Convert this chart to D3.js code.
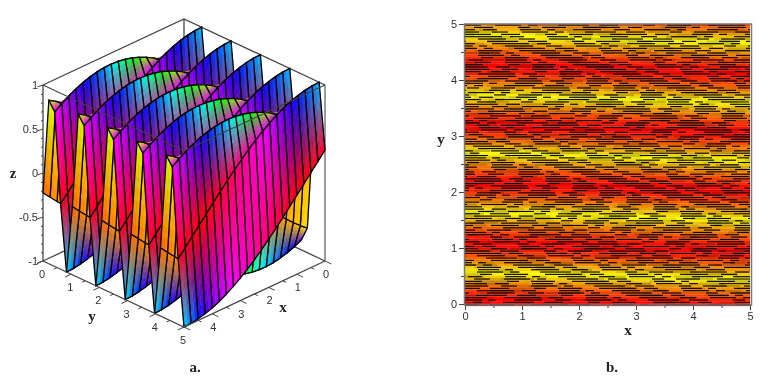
<!DOCTYPE html>
<html>
<head>
<meta charset="utf-8">
<script src="https://cdnjs.cloudflare.com/ajax/libs/d3/7.8.5/d3.min.js"></script>
<style>
  html, body { margin: 0; padding: 0; background: #fff; }
  svg { display: block; filter: blur(0.3px); }
  .tk { font-family: "Liberation Sans", sans-serif; font-size: 11px; fill: #333; }
  .lab { font-family: "Liberation Serif", serif; font-size: 15px; font-weight: bold; fill: #222; }
</style>
</head>
<body>
<svg id="graph" width="767" height="385"></svg>
<script>
const w = 767;
const h = 385;

// panel a: mesh lines, x runs from the front edge to the right corner
const xGrid = [5,4.75,4.5,4.25,4,3.75,3.5,3.25,3,2.75,2.5,2.25,2,1.75,1.5,1.25,1,0.75,0.5,0.25,0];
const yGrid = [0,0.208,0.417,0.625,0.833,1.042,1.25,1.458,1.667,1.875,2.083,2.292,2.5,2.708,2.917,3.125,3.333,3.542,3.75,3.958,4.167,4.375,4.583,4.792,5];
const zLine0 = [-0.225,-0.313,-0.399,-0.481,-0.559,-0.633,-0.701,-0.763,-0.819,-0.868,-0.91,-0.944,-0.97,-0.988,-0.998,-1,-0.993,-0.977,-0.954,-0.922,-0.883];
const zLine1 = [0.857,0.807,0.749,0.685,0.616,0.541,0.462,0.379,0.292,0.204,0.113,0.022,-0.07,-0.161,-0.25,-0.338,-0.423,-0.504,-0.581,-0.653,-0.719];
const zLine2 = [0.755,0.812,0.862,0.905,0.94,0.967,0.986,0.997,1,0.994,0.98,0.958,0.927,0.889,0.843,0.791,0.731,0.666,0.595,0.519,0.438];
const zLine3 = [-0.259,-0.169,-0.078,0.013,0.105,0.195,0.284,0.371,0.454,0.534,0.609,0.679,0.743,0.801,0.853,0.897,0.934,0.962,0.983,0.996,1];
const zLine4 = [-1,-0.996,-0.983,-0.962,-0.934,-0.897,-0.853,-0.801,-0.743,-0.679,-0.609,-0.534,-0.454,-0.371,-0.284,-0.195,-0.105,-0.013,0.078,0.169,0.259];
const zLines = [zLine0,zLine1,zLine2,zLine3,zLine4];
// hue along each curve, read at these x
const hueAt = [5,4.167,3.333,2.5,1.667,0.833,0];
const hueLine0 = [24,40,55,85,165,215,265];
const hueLine1 = [72,50,38,28,28,38,52];
const hueLine2 = [300,255,210,145,72,48,38];
const hueLine3 = [350,358,345,318,285,238,195];
const hueLine4 = [190,262,298,322,345,358,350];
const hueLines = [hueLine0,hueLine1,hueLine2,hueLine3,hueLine4];
const axisTicks = [0,1,2,3,4,5];
const halfTicks = [0.5,1.5,2.5,3.5,4.5];
const zTicks = [-1,-0.5,0,0.5,1];
const zTickLabels = ['-1','-0.5','0','0.5','1'];
const zMinor = [-0.9,-0.8,-0.7,-0.6,-0.4,-0.3,-0.2,-0.1,0.1,0.2,0.3,0.4,0.6,0.7,0.8,0.9];

// panel b: centre of each colour band at x=0 and its level (0 red, 1 yellow)
const bandY = [-0.46,0.07,0.57,1.09,1.64,2.16,2.7,3.2,3.73,4.27,4.8,5.3];
const bandLevel = [1,0,1,0,1,0,1,0,1,0,1,0];
const bandLevelStops = [0.1,0.4,0.7,0.98];
const bandColors = ['#fb0800','#fd4a00','#f0a000','#fcfc00'];
const bandDrop = 0.14; // bands sink this much from x=0 to x=5
const rowShade = [1,0.92,1,0.8,0.96,1,0.86,1,0.9,0.78,1,0.95,0.84];
const dashLengths = [16,26,9,31,19,12,24,37,14,21,8,28];
const gapLengths = [14,7,21,10,25,12,17,8,23,6,18,13];
const cellWidths = [22,31,17,26,35,20,28,15,24,33];

const svg = d3.select('#graph');

// panel a projection, one linear scale per screen contribution
const xToLeft = d3.scaleLinear().domain([0,5]).range([0,-141]);
const yToRight = d3.scaleLinear().domain([0,5]).range([184,325]);
const xToDown = d3.scaleLinear().domain([0,5]).range([0,66]);
const yToDown = d3.scaleLinear().domain([0,5]).range([0,66]);
const zToUp = d3.scaleLinear().domain([-1,1]).range([195,19]);

function px(p){ return xToLeft(p[0]) + yToRight(p[1]); }
function py(p){ return xToDown(p[0]) + yToDown(p[1]) + zToUp(p[2]); }
const line3 = d3.line().x(px).y(py);

const hueScales = hueLines.map(function(hues){
  return d3.scaleLinear().domain(hueAt).range(hues);
});
function vertexColor(k,j){
  return d3.hsl(hueScales[j%5](xGrid[k]),1,0.5).rgb();
}
function mix(a,b,t){ return a + (b-a)*t; }

function box(g,pts,width,col){
  g.append('path').attr('d',line3(pts)).attr('fill','none')
    .attr('stroke',col||'#444').attr('stroke-width',width||1.3);
}

function generateSurface(){
  const g = svg.append('g').attr('id','surface');
  const bands = 8;
  const cols = 2;
  for (let j=0;j<yGrid.length-1;j++){
    for (let k=xGrid.length-2;k>=0;k--){
      // k is the front side, k+1 further back; j the far line, j+1 the near one
      const a = [xGrid[k+1],yGrid[j],zLines[j%5][k+1]];
      const b = [xGrid[k],yGrid[j],zLines[j%5][k]];
      const c = [xGrid[k],yGrid[j+1],zLines[(j+1)%5][k]];
      const d = [xGrid[k+1],yGrid[j+1],zLines[(j+1)%5][k+1]];
      const farMix = d3.interpolateRgb(vertexColor(k+1,j),vertexColor(k,j));
      const nearMix = d3.interpolateRgb(vertexColor(k+1,j+1),vertexColor(k,j+1));
      // point on the quad, s along x and t along y
      const at = function(s,t){
        return [mix(a[0],b[0],s),mix(a[1],d[1],t),mix(mix(a[2],b[2],s),mix(d[2],c[2],s),t)];
      };
      for (let m=0;m<cols;m++){
        const s0 = m/cols, s1 = (m+1)/cols;
        const colMix = d3.interpolateRgb(farMix((s0+s1)/2),nearMix((s0+s1)/2));
        for (let n=0;n<bands;n++){
          const t0 = n/bands, t1 = (n+1)/bands;
          const col = colMix((t0+t1)/2);
          g.append('path').attr('d',line3([at(s0,t0),at(s1,t0),at(s1,t1),at(s0,t1),at(s0,t0)]))
            .attr('fill',col).attr('stroke',col).attr('stroke-width',0.5);
        }
      }
      g.append('path').attr('d',line3([a,b,c,d,a])).attr('fill','none')
        .attr('stroke','#000').attr('stroke-width',1.3);
    }
  }
}

function generateBoxBack(){
  const g = svg.append('g');
  box(g,[[0,0,1],[0,0,-1]]);
  box(g,[[5,0,-1],[0,0,-1],[0,5,-1]]);
  box(g,[[5,0,1],[5,0,-1]]);
  box(g,[[0,5,1],[0,5,-1]],1.3,'#666');
  box(g,[[5,0,1],[0,0,1],[0,5,1]]);
}

function generateBoxFront(){
  const g = svg.append('g');
  box(g,[[5,0,1],[5,5,1],[0,5,1]],1.1);
  box(g,[[5,0,-1],[5,5,-1],[0,5,-1]]);
  // y ticks lie on the x=5 edge, x ticks on the y=5 edge
  axisTicks.forEach(function(t){
    box(g,[[5,t,-1],[5.22,t,-1]],1);
    box(g,[[t,5,-1],[t,5.22,-1]],1);
  });
  halfTicks.forEach(function(t){
    box(g,[[5,t,-1],[5.12,t,-1]],1);
    box(g,[[t,5,-1],[t,5.12,-1]],1);
  });
  zTicks.forEach(function(t,i){
    box(g,[[5,0,t],[5.17,-0.03,t]],1);
    g.append('text').attr('class','tk').attr('text-anchor','end')
      .attr('x',px([5,0,t])-5).attr('y',py([5,0,t])+4).text(zTickLabels[i]);
  });
  zMinor.forEach(function(t){
    box(g,[[5,0,t],[5.07,0,t]],1);
  });
  axisTicks.forEach(function(t){
    g.append('text').attr('class','tk').attr('text-anchor','middle')
      .attr('x',px([5,t,-1])-1).attr('y',py([5,t,-1])+17).text(t);
    if (t<5) g.append('text').attr('class','tk').attr('text-anchor','middle')
      .attr('x',px([t,5,-1])+1).attr('y',py([t,5,-1])+17).text(t);
  });
  svg.append('text').attr('class','lab').attr('x',13).attr('y',178).attr('text-anchor','middle').text('z');
  svg.append('text').attr('class','lab').attr('x',92).attr('y',321).attr('text-anchor','middle').text('y');
  svg.append('text').attr('class','lab').attr('x',283).attr('y',312).attr('text-anchor','middle').text('x');
  svg.append('text').attr('class','lab').attr('x',195).attr('y',372).attr('text-anchor','middle').text('a.');
}

// panel b
const xScale = d3.scaleLinear().domain([0,5]).range([465,750]);
const yScale = d3.scaleLinear().domain([0,5]).range([304,24]);
const levelAt = d3.scaleLinear().domain(bandY).range(bandLevel);
const levelColor = d3.scaleLinear().domain(bandLevelStops).range(bandColors).clamp(true);

function generateMap(){
  const g = svg.append('g').attr('id','map');
  const rowH = 2.33;
  const rows = d3.range(0,Math.ceil(280/rowH));
  const dashCycle = d3.sum(dashLengths) + d3.sum(gapLengths);
  rows.forEach(function(r){
    const top = 24 + r*rowH;
    const yVal = yScale.invert(top+rowH/2);
    // coloured runs
    let sx = 465 - (r*7)%20;
    let n = r*3;
    while (sx<750){
      const cw = cellWidths[n%cellWidths.length];
      const x0 = Math.max(sx,465), x1 = Math.min(sx+cw,750);
      const mid = xScale.invert((x0+x1)/2);
      const c = d3.color(levelColor(levelAt(yVal + bandDrop*mid/5)));
      const s = rowShade[(n+r)%rowShade.length];
      c.r*=s; c.g*=s; c.b*=s;
      g.append('rect').attr('x',x0).attr('y',top).attr('width',Math.max(0,x1-x0)).attr('height',rowH+0.2).attr('fill',c+'');
      sx += cw;
      n++;
    }
    // black contour dashes, each row slips a little to the right of the one above
    let dx = 465 + (r*9)%dashCycle - dashCycle;
    let m = (r%3)*4;
    while (dx<750){
      const len = dashLengths[m%dashLengths.length];
      const x0 = Math.max(dx,465), x1 = Math.min(dx+len,750);
      if (x1>x0) g.append('rect').attr('x',x0).attr('y',top+0.5).attr('width',x1-x0).attr('height',1.1).attr('fill','#000');
      dx += len + gapLengths[m%gapLengths.length];
      m++;
    }
  });
}

function generateAxes(){
  const g = svg.append('g');
  const xAxis = d3.axisBottom(xScale).tickValues(d3.merge([axisTicks,halfTicks])).tickSize(0).tickFormat(function(d){ return d%1===0 ? d : ''; }).tickPadding(7);
  const yAxis = d3.axisLeft(yScale).tickValues(d3.merge([axisTicks,halfTicks])).tickSize(0).tickFormat(function(d){ return d%1===0 ? d : ''; }).tickPadding(7);
  const gx = g.append('g').attr('transform','translate(0,305)').call(xAxis);
  const gy = g.append('g').attr('transform','translate(464,0)').call(yAxis);
  [gx,gy].forEach(function(ax){
    ax.select('.domain').remove();
    ax.selectAll('text').attr('class','tk').style('font-size',null).style('font-family',null).attr('font-size',null).attr('font-family',null);
  });
  gx.selectAll('.tick line').attr('y2',function(d){ return d%1===0 ? 5 : 3; }).attr('stroke','#444');
  gy.selectAll('.tick line').attr('x2',function(d){ return d%1===0 ? -5 : -3; }).attr('stroke','#444');
  g.append('rect').attr('x',464.5).attr('y',24).attr('width',287).attr('height',281)
    .attr('fill','none').attr('stroke','#777').attr('stroke-width',1.5);
  svg.append('text').attr('class','lab').attr('x',441).attr('y',144).attr('text-anchor','middle').text('y');
  svg.append('text').attr('class','lab').attr('x',628).attr('y',335).attr('text-anchor','middle').text('x');
  svg.append('text').attr('class','lab').attr('x',612).attr('y',372).attr('text-anchor','middle').text('b.');
}

generateBoxBack();
generateSurface();
generateBoxFront();
generateMap();
generateAxes();
</script>
</body>
</html>
